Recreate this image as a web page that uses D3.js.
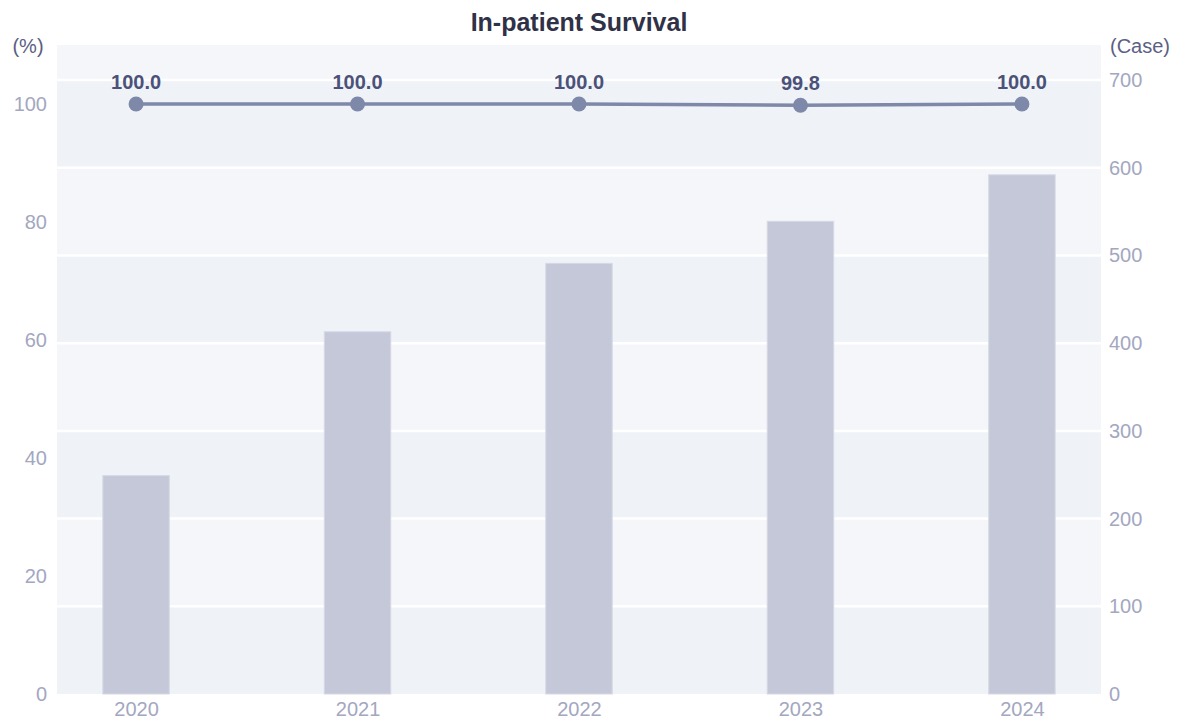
<!DOCTYPE html>
<html><head><meta charset="utf-8">
<script src="https://cdn.jsdelivr.net/npm/d3@7"></script>
<style>body{margin:0;background:#fff;font-family:"Liberation Sans",Arial,sans-serif;}</style>
</head><body>
<svg id="chart" width="1181" height="722"></svg>
<script>
const years = ["2020","2021","2022","2023","2024"];
const cases = [249, 413, 491, 539, 592];
const survival = [100.0, 100.0, 100.0, 99.8, 100.0];
const leftTicks = [0,20,40,60,80,100];
const rightTicks = [0,100,200,300,400,500,600,700];

const svg = d3.select("#chart");
const m = {l:57, r:1101, t:45, b:694};
const x = d3.scalePoint().domain(years).range([m.l, m.r]).padding(0.357);
const yL = d3.scaleLinear().domain([0,110]).range([m.b, m.t]);
const yR = d3.scaleLinear().domain([0,740]).range([m.b, m.t]);

// bands
const bandEdges = rightTicks.concat([740]);
for (let i=0;i<bandEdges.length-1;i++){
  svg.append("rect").attr("x",m.l).attr("width",m.r-m.l)
    .attr("y",yR(bandEdges[i+1])).attr("height",yR(bandEdges[i])-yR(bandEdges[i+1]))
    .attr("fill", i%2===0 ? "#eff2f7" : "#f5f6fa");
}
// grid lines
svg.selectAll(".grid").data(rightTicks.slice(1)).join("line")
  .attr("x1",m.l).attr("x2",m.r).attr("y1",d=>yR(d)).attr("y2",d=>yR(d))
  .attr("stroke","#ffffff").attr("stroke-width",2.5);

// bars
const bw = x.step()*0.3;
svg.selectAll(".bar").data(cases).join("rect")
  .attr("x",(d,i)=>x(years[i])-bw/2).attr("width",bw)
  .attr("y",d=>yR(d)).attr("height",d=>yR(0)-yR(d))
  .attr("fill","#c5c8d8").attr("stroke","#d6d9e5").attr("stroke-width",1);

// line
const line = d3.line().x((d,i)=>x(years[i])).y(d=>yL(d));
svg.append("path").datum(survival).attr("d",line)
  .attr("fill","none").attr("stroke","#7e88a8").attr("stroke-width",3.5);
svg.selectAll(".pt").data(survival).join("circle")
  .attr("cx",(d,i)=>x(years[i])).attr("cy",d=>yL(d)).attr("r",7.5)
  .attr("fill","#7e88a8");
svg.selectAll(".lbl").data(survival).join("text")
  .attr("x",(d,i)=>x(years[i])).attr("y",d=>yL(d)-15)
  .attr("text-anchor","middle").attr("font-size",20).attr("font-weight","bold")
  .attr("fill","#4b5179").text(d=>d.toFixed(1));

// axes
const axL = svg.append("g").attr("transform",`translate(${m.l},0)`)
  .call(d3.axisLeft(yL).tickValues(leftTicks).tickSize(0).tickPadding(10));
const axR = svg.append("g").attr("transform",`translate(${m.r},0)`)
  .call(d3.axisRight(yR).tickValues(rightTicks).tickSize(0).tickPadding(8));
const axB = svg.append("g").attr("transform",`translate(0,${m.b})`)
  .call(d3.axisBottom(x).tickSize(0).tickPadding(8));
[axL,axR,axB].forEach(g=>{
  g.select(".domain").remove();
  g.selectAll("text").attr("font-size",20).attr("fill","#a3a7bf")
    .attr("font-family","'Liberation Sans',Arial,sans-serif");
});

svg.append("text").attr("x",28).attr("y",53).attr("text-anchor","middle")
  .attr("font-size",20).attr("fill","#5b6084").text("(%)");
svg.append("text").attr("x",1140).attr("y",53).attr("text-anchor","middle")
  .attr("font-size",20).attr("fill","#5b6084").text("(Case)");
svg.append("text").attr("x",(m.l+m.r)/2).attr("y",31).attr("text-anchor","middle")
  .attr("font-size",25).attr("font-weight","bold").attr("fill","#2f3147").text("In-patient Survival");
</script>
</body></html>
